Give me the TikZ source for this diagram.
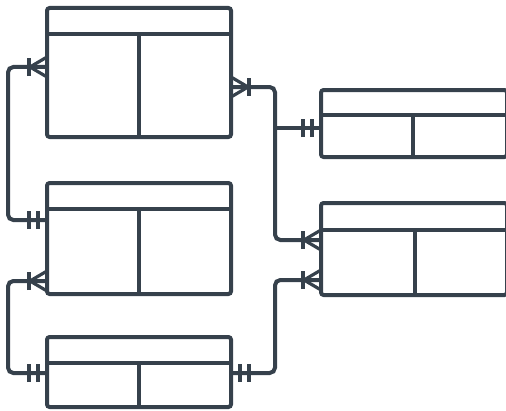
\documentclass[tikz,border=0pt]{standalone}
\usetikzlibrary{calc}
\definecolor{lineColor}{HTML}{36414C}

\tikzset{
  entity/.style={draw=lineColor, line width=3pt, rounded corners=2pt},
  link/.style={draw=lineColor, line width=3pt, rounded corners=4pt},
  crowfoot/.pic={
    \draw[lineColor, line width=2.4pt] (0,-10) -- (17,0) (0,0) -- (17,0) (0,10) -- (17,0);
    \draw[lineColor, line width=2.6pt] (18,-9) -- (18,9);
  },
  twobar/.pic={
    \draw[lineColor, line width=2.6pt] (9,-9) -- (9,9) (18,-9) -- (18,9);
  }
}

\begin{document}
\begin{tikzpicture}[x=0.75pt, y=-0.75pt]
    \useasboundingbox (0,0) rectangle (506,410);
    \clip (0,0) rectangle (506,410);

    % tables: left/top/right/header/bottom/divider
    \foreach \l/\t/\r/\h/\b/\d in {47/8/231/34/137/139, 321/90/507/115/157/413,
        47/183/231/209/294/139, 47/337/231/363/407/139, 321/203/507/230/295/415} {
        \draw[entity] (\l,\t) rectangle (\r,\b);
        \draw[entity] (\l,\h) -- (\r,\h);
        \draw[entity] (\d,\h) -- (\d,\b);
    }

    % attachment points
    \coordinate (usersW) at (47,67);
    \coordinate (usersE) at (231,87);
    \coordinate (rolesW) at (321,128);
    \coordinate (ordersW) at (47,220);
    \coordinate (ordersWlow) at (47,281);
    \coordinate (itemsW) at (47,373);
    \coordinate (itemsE) at (231,373);
    \coordinate (logsW) at (321,240);
    \coordinate (logsWlow) at (321,280);
    \coordinate (trunk) at (275,128);

    % connectors
    \draw[link] (usersW) -- (8,67) -- (8,220) -- (ordersW);
    \draw[link] (usersE) -- (275,87) -- (275,240) -- (logsW);
    \draw[link] (trunk) -- (rolesW);
    \draw[link] (ordersWlow) -- (8,281) -- (8,373) -- (itemsW);
    \draw[link] (itemsE) -- (275,373) -- (275,280) -- (logsWlow);

    % cardinality marks
    \pic[rotate=180] at (usersW) {crowfoot};
    \pic at (usersE) {crowfoot};
    \pic[rotate=180] at (rolesW) {twobar};
    \pic[rotate=180] at (ordersW) {twobar};
    \pic[rotate=180] at (ordersWlow) {crowfoot};
    \pic[rotate=180] at (itemsW) {twobar};
    \pic at (itemsE) {twobar};
    \pic[rotate=180] at (logsW) {crowfoot};
    \pic[rotate=180] at (logsWlow) {crowfoot};
\end{tikzpicture}
\end{document}
